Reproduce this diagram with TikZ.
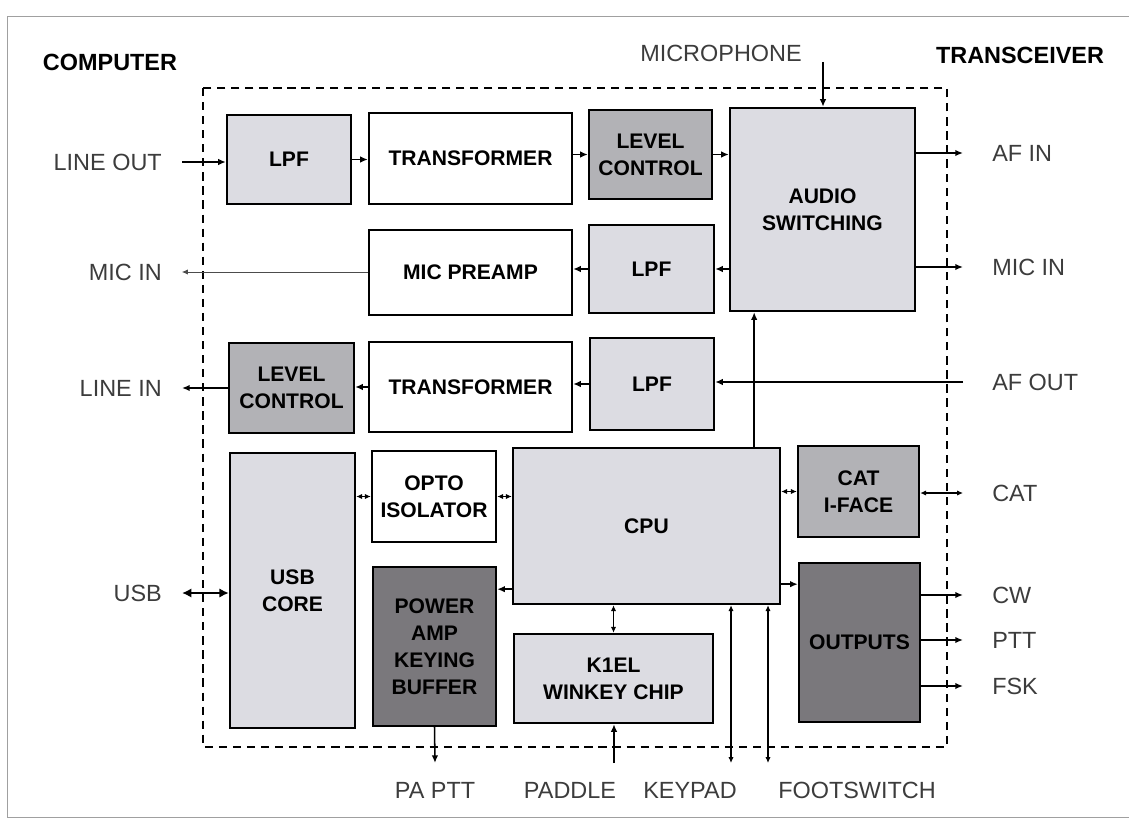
\documentclass[tikz,border=0pt]{standalone}
\usepackage{fontspec}
\setmainfont{Liberation Sans}
\usepackage{tikz}
\usetikzlibrary{positioning, arrows.meta, calc}
\definecolor{boxLight}{HTML}{DCDCE2}
\definecolor{boxMid}{HTML}{B2B2B6}
\definecolor{boxDark}{HTML}{7A787C}
\definecolor{lblGray}{HTML}{3C3C3C}
\definecolor{frameGray}{HTML}{A0A0A0}

\tikzset{
  blk/.style={draw, line width=2pt, inner sep=0pt, align=center,
    font=\fontsize{18}{23}\selectfont\bfseries},
  lbl/.style={inner sep=0pt, text=lblGray, font=\fontsize{20}{24}\selectfont},
  hdr/.style={inner sep=0pt, font=\fontsize{20}{24}\selectfont\bfseries},
  sig/.style={line width=1.3pt, -{Latex[length=6.5pt,width=5.5pt]}},
  sigboth/.style={line width=1.3pt, {Latex[length=5pt,width=4.5pt]}-{Latex[length=5pt,width=4.5pt]}},
}

\begin{document}
\begin{tikzpicture}[x=0.03cm, y=-0.03cm]
  \useasboundingbox (0,0) rectangle (1129,820);
  % scan frame
  \draw[frameGray, line width=0.5pt] (1129,16) -| (7,817) -- (1129,817);

  % headers
  \node[hdr] (computer) at (110,62) {COMPUTER};
  \node[hdr] (transceiver) at (1020,55) {TRANSCEIVER};

  % interface box
  \draw[line width=1.2pt, dash pattern=on 7pt off 5pt] (203,88) rectangle (947,747);

  % blocks: name/left/top/right/bottom/fill/text
  \foreach \nm/\xa/\ya/\xb/\yb/\fl/\txt in {%
    lpfa/227/115/351/204/boxLight/{LPF},
    trfa/369/113/572/204/white/{TRANSFORMER},
    lvla/589/110/712/199/boxMid/{LEVEL\\CONTROL},
    audsw/730/108/915/311/boxLight/{AUDIO\\SWITCHING},
    micpre/369/230/572/315/white/{MIC PREAMP},
    lpfb/589/225/714/313/boxLight/{LPF},
    lvlb/229/343/354/433/boxMid/{LEVEL\\CONTROL},
    trfb/369/342/572/432/white/{TRANSFORMER},
    lpfc/590/338/714/430/boxLight/{LPF},
    usbcore/230/453/355/728/boxLight/{USB\\CORE},
    opto/372/451/496/542/white/{OPTO\\ISOLATOR},
    paamp/373/567/496/726/boxDark/{POWER\\AMP\\KEYING\\BUFFER},
    cpu/513/448/780/604/boxLight/{CPU},
    winkey/514/634/713/723/boxLight/{K1EL\\WINKEY CHIP},
    catif/798/446/919/537/boxMid/{CAT\\I-FACE},
    outputs/799/563/920/722/boxDark/{OUTPUTS}%
  } {
    \node[blk, fill=\fl, minimum width={(\xb-\xa)*0.03cm},
      minimum height={(\yb-\ya)*0.03cm}] (\nm) at ({(\xa+\xb)/2},{(\ya+\yb)/2}) {\txt};
  }

  % computer side
  \foreach \nm/\y/\txt in {lineout/162/LINE OUT, micl/272/MIC IN, linein/388/LINE IN, usb/593/USB} {
    \coordinate (\nm) at (182,\y);
    \node[lbl, anchor=east] (\nm txt) at (162,\y) {\txt};
  }
  % transceiver side
  \foreach \nm/\y/\txt in {afin/153/AF IN, micr/267/MIC IN, afout/382/AF OUT, cat/493/CAT,
    cw/595/CW, ptt/640/PTT, fsk/686/FSK} {
    \coordinate (\nm) at (963,\y);
    \node[lbl, anchor=west] (\nm txt) at (992,\y) {\txt};
  }
  % bottom
  \foreach \nm/\x/\lx/\txt in {paptt/435/435/PA PTT, paddle/614/570/PADDLE,
    keypad/731/690/KEYPAD, footsw/768/857/FOOTSWITCH} {
    \coordinate (\nm) at (\x,763);
    \node[lbl] (\nm txt) at (\lx,790) {\txt};
  }
  \coordinate (mic) at (823,62);
  \node[lbl] (mictxt) at (721,53) {MICROPHONE};

  % taps on the cpu edges
  \coordinate (cpuup) at ($(cpu.north east)+(-27,0)$);
  \coordinate (cpupa) at ($(cpu.south west)+(0,-16)$);
  \coordinate (cpuout) at ($(cpu.south east)+(0,-21)$);

  % audio paths
  \draw[sig] (lineout) -- (lineout -| lpfa.west);
  \draw[sig] (lpfa.east) -- (lpfa.east -| trfa.west);
  \draw[sig] (lvla.west -| trfa.east) -- (lvla.west);
  \draw[sig] (lvla.east) -- (lvla.east -| audsw.west);
  \draw[sig] (afin -| audsw.east) -- (afin);
  \draw[sig] (micr -| audsw.east) -- (micr);
  \draw[sig] (mic) -- (mic |- audsw.north);
  \draw[sig] (lpfb.east -| audsw.west) -- (lpfb.east);
  \draw[sig] (lpfb.west) -- (lpfb.west -| micpre.east);
  \draw[line width=0.6pt, black!70, -{Latex[length=5pt,width=4.5pt]}] (micl -| micpre.west) -- (micl);
  \draw[sig] (afout) -- (afout -| lpfc.east);
  \draw[sig] (lpfc.west) -- (lpfc.west -| trfb.east);
  \draw[sig] (trfb.west) -- (trfb.west -| lvlb.east);
  \draw[sig] (linein -| lvlb.west) -- (linein);
  \draw[sig] (cpuup) -- (cpuup |- audsw.south);

  % control paths
  \draw[line width=2.4pt, {Latex[length=8pt,width=8pt]}-{Latex[length=8pt,width=8pt]}] (usb) -- (usb -| usbcore.west);
  \draw[sigboth] (opto.west -| usbcore.east) -- (opto.west);
  \draw[sigboth] (opto.east) -- (opto.east -| cpu.west);
  \draw[sig] (cpupa) -- (cpupa -| paamp.east);
  \draw[sigboth] (catif.west -| cpu.east) -- (catif.west);
  \draw[sigboth] (cat -| catif.east) -- (cat);
  \draw[sig] (cpuout) -- (cpuout -| outputs.west);
  \foreach \nm in {cw, ptt, fsk} {
    \draw[sig] (\nm -| outputs.east) -- (\nm);
  }
  \draw[sigboth] (winkey.north) -- (winkey.north |- cpu.south);
  \draw[sig] (paddle) -- (paddle |- winkey.south);
  \draw[sig] (paamp.south) -- (paptt);
  \draw[sigboth] (keypad |- cpu.south) -- (keypad);
  \draw[sigboth] (footsw |- cpu.south) -- (footsw);
\end{tikzpicture}
\end{document}
